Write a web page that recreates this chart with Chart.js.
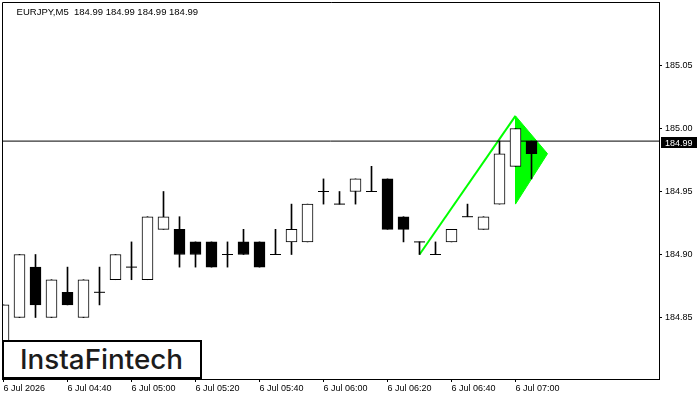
<!DOCTYPE html>
<html>
<head>
<meta charset="utf-8">
<script src="https://cdn.jsdelivr.net/npm/chart.js@4.4.1/dist/chart.umd.min.js"></script>
<style>
  html, body { margin:0; padding:0; background:#fff; }
  #wrap { position:relative; width:700px; height:400px; overflow:hidden; background:#fff; }
  #c { position:absolute; left:0; top:0; }
  #hdr { position:absolute; left:16.6px; top:6.5px; font-family:"Liberation Sans", Arial, sans-serif; font-size:9.5px; line-height:9.5px; color:#000; white-space:pre; }
  #logo { position:absolute; left:2px; top:340px; width:196px; height:35px; border:2px solid #000; background:#fff; }
  #logoText { position:absolute; left:15.5px; top:3.5px; font-family:Inter, "Noto Sans", sans-serif; font-weight:500; font-size:27.5px; line-height:27.5px; color:#1c1c1c; white-space:nowrap; transform-origin:left top; }
</style>
</head>
<body>
<div id="wrap">
  <canvas id="c" width="700" height="400"></canvas>
  <div id="hdr">EURJPY,M5  184.99 184.99 184.99 184.99</div>
  <div id="logo"><span id="logoText">InstaFintech</span></div>
</div>
<script>
// ---- data ----
const opens  = [184.83,184.85,184.89,184.85,184.87,184.85,184.87,184.88,184.89,184.88,184.92,184.92,184.91,184.91,184.90,184.91,184.91,184.90,184.91,184.91,184.95,184.94,184.95,184.95,184.96,184.93,184.91,184.90,184.91,184.93,184.92,184.94,184.97,184.99];
const highs  = [184.86,184.90,184.90,184.88,184.89,184.88,184.89,184.90,184.91,184.93,184.95,184.93,184.91,184.91,184.91,184.92,184.91,184.92,184.94,184.94,184.96,184.95,184.96,184.97,184.96,184.93,184.91,184.91,184.92,184.94,184.93,184.99,185.00,184.99];
const lows   = [184.82,184.85,184.85,184.85,184.86,184.85,184.86,184.88,184.88,184.88,184.92,184.89,184.89,184.89,184.89,184.90,184.89,184.90,184.90,184.91,184.94,184.94,184.94,184.95,184.92,184.91,184.90,184.90,184.91,184.93,184.92,184.94,184.97,184.96];
const closes = [184.86,184.90,184.86,184.88,184.86,184.88,184.87,184.90,184.89,184.93,184.93,184.90,184.90,184.89,184.90,184.90,184.89,184.90,184.92,184.94,184.95,184.94,184.96,184.95,184.92,184.92,184.91,184.90,184.92,184.93,184.93,184.98,185.00,184.98];
const tickPositions = [0,4,8,12,16,20,24,28,32];
const tickLabels = ['6 Jul 2026','6 Jul 04:40','6 Jul 05:00','6 Jul 05:20','6 Jul 05:40','6 Jul 06:00','6 Jul 06:20','6 Jul 06:40','6 Jul 07:00'];
const priceTicks = [184.85,184.90,184.95,185.00,185.05];
const lastPrice = 184.99;
const poleX = [26,32];
const poleY = [184.90,185.01];
const flagX = [32,34,32,32];
const flagY = [185.01,184.98,184.94,185.01];

// ---- view range ----
const X_MIN = -0.09375, X_MAX = 40.96875;
const Y_MAX = 185.1004, Y_MIN = 184.8012;

const FONT = { family: '"Liberation Sans", Arial, sans-serif', size: 9 };

const bodies = opens.map((o,i)=>({x:i, y:[Math.min(o,closes[i]), Math.max(o,closes[i])]}));
const bodyColors = opens.map((o,i)=> closes[i] >= o ? '#ffffff' : '#000000');
const wicks = opens.map((o,i)=>({x:i, y:[lows[i], highs[i]]}));
const dojis = [];
opens.forEach((o,i)=>{ if (o === closes[i]) dojis.push({x:i, y:o}); });

const noPad = (s)=>{ s.paddingLeft = 0; s.paddingRight = 0; s.paddingTop = 0; s.paddingBottom = 0; };

const framePlugin = {
  id:'frame',
  afterDraw(chart){
    const {ctx, chartArea:a, scales:{y}} = chart;
    ctx.save();
    ctx.strokeStyle = '#000'; ctx.lineWidth = 1;
    ctx.beginPath();
    ctx.moveTo(a.left+0.5, a.bottom);
    ctx.lineTo(a.left+0.5, a.top+0.5);
    ctx.lineTo(a.right+1, a.top+0.5);
    ctx.stroke();
    const py = Math.round(y.getPixelForValue(lastPrice));
    ctx.fillStyle = '#000';
    ctx.fillRect(a.right+2, py-4, 36, 11);
    ctx.fillStyle = '#fff';
    ctx.font = '9px "Liberation Sans", Arial, sans-serif';
    ctx.textBaseline = 'alphabetic';
    ctx.textAlign = 'left';
    ctx.fillText(lastPrice.toFixed(2), a.right+6, py+5);
    ctx.restore();
  }
};

new Chart(document.getElementById('c'), {
  type: 'bar',
  data: {
    datasets: [
      { type:'scatter', data:dojis, order:0, pointStyle:'line', pointRadius:5.5, pointHoverRadius:5.5,
        pointBorderColor:'#000', pointBorderWidth:1, borderColor:'#000', backgroundColor:'#000' },
      { type:'bar', data:bodies, order:1, grouped:false, barThickness:11, borderSkipped:false,
        backgroundColor:bodyColors, borderColor:'#000', borderWidth:1 },
      { type:'bar', data:wicks, order:2, grouped:false, barThickness:1, borderWidth:0,
        backgroundColor:'#000' },
      { type:'line', data:[{x:-5,y:lastPrice},{x:60,y:lastPrice}], order:3, borderColor:'#000',
        borderWidth:1, pointRadius:0, fill:false },
      { type:'line', data:poleX.map((x,i)=>({x, y:poleY[i]})), order:4, borderColor:'#00ff00',
        borderWidth:2, pointRadius:0, fill:false },
      { type:'line', data:flagX.map((x,i)=>({x, y:flagY[i]})), order:5, borderColor:'#00ff00',
        backgroundColor:'#00ff00', borderWidth:1, pointRadius:0, fill:'shape', tension:0 }
    ]
  },
  options: {
    responsive:false, animation:false, events:[], devicePixelRatio:1,
    layout:{ autoPadding:false, padding:{ left:2, top:2, right:0, bottom:0 } },
    plugins:{ legend:{display:false}, tooltip:{enabled:false} },
    scales:{
      x:{ type:'linear', position:'bottom', min:X_MIN, max:X_MAX, offset:false,
        afterBuildTicks:(s)=>{ s.ticks = tickPositions.map(v=>({value:v})); },
        afterFit:(s)=>{ s.height = 21; noPad(s); },
        ticks:{ autoSkip:false, maxRotation:0, minRotation:0, align:'start', color:'#000', font:FONT, padding:1,
          callback:(v)=>{ const k = tickPositions.indexOf(v); return k>=0 ? tickLabels[k] : ''; } },
        grid:{ drawOnChartArea:false, offset:false, tickLength:3, color:'#000' },
        border:{ display:true, color:'#000', width:1 }
      },
      y:{ type:'linear', position:'right', min:Y_MIN, max:Y_MAX,
        afterBuildTicks:(s)=>{ s.ticks = priceTicks.map(v=>({value:v})); },
        afterFit:(s)=>{ s.width = 41; noPad(s); },
        ticks:{ color:'#000', font:FONT, padding:3, callback:(v)=>Number(v).toFixed(2) },
        grid:{ drawOnChartArea:false, tickLength:3, color:'#000' },
        border:{ display:true, color:'#000', width:1 }
      }
    }
  },
  plugins:[framePlugin]
});

// fit logo text width to the box like the reference
const lt = document.getElementById('logoText');
const w = lt.getBoundingClientRect().width;
lt.style.transform = 'scaleX(' + (163 / w).toFixed(4) + ')';
</script>
</body>
</html>
